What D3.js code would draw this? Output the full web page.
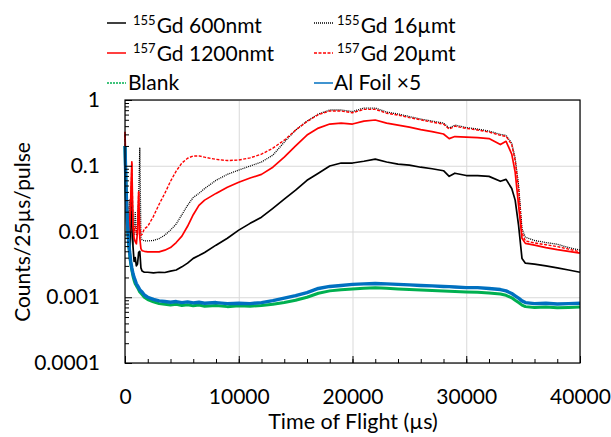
<!DOCTYPE html>
<html>
<head>
<meta charset="utf-8">
<script src="https://cdn.jsdelivr.net/npm/d3@7"></script>
<style>
  body { margin: 0; background: #fff; }
  text { font-family: Lato, "Open Sans", sans-serif; fill: #000; }
  .grid line { stroke: #d9d9d9; stroke-width: 1; }
  .grid path { display: none; }
</style>
</head>
<body>
<svg id="chart"></svg>
<script>

// Time of flight (us), shared by every series
var tof = [0, 100, 200, 300, 400, 500, 600, 700, 800, 900,
  1000, 1100, 1200, 1300, 1400, 1500, 1700, 2000, 2500, 3000,
  3500, 4000, 4500, 5000, 5500, 6000, 6500, 7000, 8000, 9000,
  10000, 11000, 12000, 13000, 14000, 15000, 16000, 17000, 18000, 19000,
  20000, 21000, 22000, 23000, 24000, 25000, 26000, 27000, 28000, 28500,
  29000, 30000, 31000, 32000, 33000, 33500, 34000, 34300, 34600, 34900,
  35200, 36000, 37000, 38000, 39000, 40000];

// 155Gd 600nmt
var gd155nm = [0.15, 0.03, 0.012, 0.006, 0.0045, 0.008, 0.06, 0.006, 0.0035, 0.004,
  0.003, 0.0032, 0.0048, 0.005, 0.0028, 0.0025, 0.0024, 0.0024, 0.00235, 0.0024,
  0.00238, 0.0025, 0.0026, 0.0029, 0.0033, 0.0039, 0.0043, 0.0048, 0.0062, 0.0079,
  0.0105, 0.0133, 0.0165, 0.0225, 0.031, 0.0425, 0.06, 0.077, 0.099, 0.11,
  0.11, 0.117, 0.126, 0.114, 0.106, 0.102, 0.095, 0.09, 0.084, 0.069,
  0.077, 0.071, 0.071, 0.069, 0.058, 0.062, 0.045, 0.03, 0.0124, 0.0039,
  0.0033, 0.0032, 0.003, 0.0028, 0.0026, 0.0024];

// 155Gd 16umt
var gd155um = [0.2, 0.04, 0.02, 0.012, 0.03, 0.012, 0.05, 0.01, 0.009, 0.02,
  0.009, 0.012, 0.03, 0.185, 0.008, 0.0075, 0.0072, 0.0072, 0.0073, 0.0078,
  0.0088, 0.0105, 0.013, 0.018, 0.025, 0.033, 0.038, 0.045, 0.06, 0.074,
  0.086, 0.099, 0.114, 0.145, 0.229, 0.349, 0.478, 0.612, 0.704, 0.704,
  0.667, 0.755, 0.755, 0.656, 0.612, 0.56, 0.513, 0.478, 0.446, 0.374,
  0.416, 0.381, 0.361, 0.337, 0.3, 0.29, 0.22, 0.131, 0.0506, 0.011,
  0.0082, 0.0073, 0.0068, 0.0064, 0.0057, 0.0052];

// 157Gd 1200nmt
var gd157nm = [0.33, 0.06, 0.02, 0.012, 0.01, 0.03, 0.115, 0.012, 0.008, 0.007,
  0.0065, 0.01, 0.04, 0.008, 0.0055, 0.0051, 0.005, 0.0049, 0.0049, 0.0049,
  0.0052, 0.0057, 0.0068, 0.0085, 0.012, 0.018, 0.025, 0.03, 0.038, 0.047,
  0.056, 0.065, 0.074, 0.095, 0.135, 0.2, 0.293, 0.374, 0.431, 0.446,
  0.431, 0.478, 0.496, 0.446, 0.416, 0.387, 0.355, 0.331, 0.304, 0.259,
  0.278, 0.273, 0.268, 0.259, 0.21, 0.235, 0.15, 0.08, 0.025, 0.0079,
  0.0066, 0.0062, 0.0057, 0.0053, 0.005, 0.0047];

// 157Gd 20umt
var gd157um = [0.3, 0.06, 0.03, 0.02, 0.015, 0.02, 0.11, 0.012, 0.01, 0.012,
  0.0095, 0.009, 0.04, 0.012, 0.0088, 0.009, 0.011, 0.012, 0.017, 0.026,
  0.038, 0.058, 0.083, 0.11, 0.13, 0.141, 0.141, 0.135, 0.125, 0.12,
  0.122, 0.132, 0.15, 0.185, 0.245, 0.349, 0.47, 0.6, 0.68, 0.68,
  0.64, 0.72, 0.72, 0.63, 0.59, 0.54, 0.5, 0.46, 0.43, 0.36,
  0.4, 0.37, 0.35, 0.325, 0.29, 0.28, 0.21, 0.12, 0.045, 0.0095,
  0.0072, 0.0067, 0.0063, 0.0059, 0.0054, 0.0049];

// Blank
var blank = [0.2, 0.04, 0.014, 0.0075, 0.0047, 0.0033, 0.0026, 0.0021, 0.0018, 0.0016,
  0.0015, 0.0014, 0.0013, 0.0012, 0.00115, 0.0011, 0.001, 0.00092, 0.00085, 0.0008,
  0.00078, 0.00076, 0.00078, 0.00075, 0.00077, 0.00074, 0.00076, 0.00073, 0.00075, 0.00072,
  0.00074, 0.00073, 0.00075, 0.00078, 0.00083, 0.0009, 0.001, 0.00115, 0.00125, 0.0013,
  0.00134, 0.00137, 0.00139, 0.00137, 0.00134, 0.00131, 0.00129, 0.00127, 0.00124, 0.00123,
  0.00122, 0.0012, 0.00119, 0.00116, 0.00112, 0.00107, 0.00098, 0.0009, 0.00083, 0.00076,
  0.00072, 0.0007, 0.00071, 0.00069, 0.0007, 0.00071];

// Al Foil x5
var alFoil = [0.2, 0.04, 0.015, 0.008, 0.005, 0.0035, 0.0028, 0.0023, 0.002, 0.0018,
  0.0016, 0.0015, 0.0014, 0.0013, 0.00125, 0.0012, 0.00108, 0.001, 0.00093, 0.00088,
  0.00086, 0.00084, 0.00086, 0.00083, 0.00085, 0.00082, 0.00084, 0.00081, 0.00083, 0.0008,
  0.00081, 0.0008, 0.00083, 0.00089, 0.00097, 0.00106, 0.00118, 0.00136, 0.00146, 0.00151,
  0.00157, 0.0016, 0.00162, 0.0016, 0.00157, 0.00154, 0.00151, 0.00149, 0.00146, 0.00145,
  0.00143, 0.0014, 0.0014, 0.00136, 0.00131, 0.00125, 0.00114, 0.00105, 0.00097, 0.00088,
  0.00083, 0.0008, 0.00081, 0.00079, 0.0008, 0.00081];

var xTicks = [0, 10000, 20000, 30000, 40000];
var yTicks = [0.0001, 0.001, 0.01, 0.1, 1];
var yTickLabels = ["0.0001", "0.001", "0.01", "0.1", "1"];

// legend entries: [superscript, label]
var legendLabels = [["155", "Gd 600nmt"], ["155", "Gd 16\u00b5mt"],
  ["157", "Gd 1200nmt"], ["157", "Gd 20\u00b5mt"],
  ["", "Blank"], ["", "Al Foil \u00d75"]];

var series = [
  { values: gd155nm, color: "#000", width: 1.7, dash: null },
  { values: gd155um, color: "#000", width: 1.3, dash: "1,1" },
  { values: gd157nm, color: "#ff0000", width: 1.7, dash: null },
  { values: gd157um, color: "#ff0000", width: 1.4, dash: "3,1.5" },
  { values: blank, color: "#00b050", width: 3, dash: null },
  { values: alFoil, color: "#0070c0", width: 3.4, dash: null }
];

var margin = {top: 100, right: 31, bottom: 74, left: 125},
    width = 611 - margin.left - margin.right,
    height = 437 - margin.top - margin.bottom;

var x = d3.scaleLinear().domain([0, 40000]).range([0, width]);
var y = d3.scaleLog().domain([0.0001, 1]).range([height, 0]);

var svg = d3.select("svg#chart")
    .attr("width", 611)
    .attr("height", 437);

var g = svg.append("g")
    .attr("transform", "translate(" + margin.left + "," + margin.top + ")");

// gridlines
g.append("g")
    .attr("class", "grid")
    .call(d3.axisLeft(y).tickValues(yTicks).tickSize(-width).tickFormat(""));
g.append("g")
    .attr("class", "grid")
    .attr("transform", "translate(0," + height + ")")
    .call(d3.axisBottom(x).tickValues(xTicks).tickSize(-height).tickFormat(""));

// curves
var line = d3.line()
    .x(function(d, i) { return x(tof[i]); })
    .y(function(d) { return y(d); });

series.forEach(function(s) {
  g.append("path")
      .datum(s.values)
      .attr("fill", "none")
      .attr("stroke", s.color)
      .attr("stroke-width", s.width)
      .attr("stroke-dasharray", s.dash)
      .attr("stroke-linejoin", "round")
      .attr("d", line);
});

// frame
g.append("rect")
    .attr("width", width)
    .attr("height", height)
    .attr("fill", "none")
    .attr("stroke", "#000")
    .attr("stroke-width", 1.2);

// minor ticks
var xMinor = d3.range(0, 40001, 2000);
var yMinor = [];
[-4, -3, -2, -1].forEach(function(p) {
  for (var k = 2; k <= 9; k++) yMinor.push(k * Math.pow(10, p));
});

function styleAxis(sel) {
  sel.select(".domain").remove();
  sel.selectAll("line").attr("stroke", "#000");
  sel.selectAll("text").style("font-size", "21px");
}

g.append("g")
    .attr("transform", "translate(0," + height + ")")
    .call(d3.axisBottom(x).tickValues(xMinor).tickSize(-4).tickFormat(""))
    .call(styleAxis);
g.append("g")
    .call(d3.axisLeft(y).tickValues(yMinor).tickSize(-4).tickFormat(""))
    .call(styleAxis);

// major ticks + labels
g.append("g")
    .attr("transform", "translate(0," + height + ")")
    .call(d3.axisBottom(x).tickValues(xTicks).tickSize(-7).tickPadding(26)
      .tickFormat(function(d) { return d; }))
    .call(styleAxis);
g.append("g")
    .call(d3.axisLeft(y).tickValues(yTicks).tickSize(-7).tickPadding(25)
      .tickFormat(function(d, i) { return yTickLabels[i]; }))
    .call(styleAxis);

// axis titles
svg.append("text")
    .attr("x", 353)
    .attr("y", 429)
    .attr("text-anchor", "middle")
    .style("font-size", "21.5px")
    .text("Time of Flight (\u00b5s)");

svg.append("text")
    .attr("transform", "translate(30,232) rotate(-90)")
    .attr("text-anchor", "middle")
    .style("font-size", "21px")
    .text("Counts/25\u00b5s/pulse");

// legend
var legendPos = [
  {lx: 107, ly: 23, tx: 133, ty: 33},
  {lx: 314, ly: 23, tx: 337, ty: 33},
  {lx: 107, ly: 53, tx: 133, ty: 61},
  {lx: 314, ly: 53, tx: 337, ty: 61},
  {lx: 107, ly: 83, tx: 128, ty: 90},
  {lx: 314, ly: 83, tx: 334, ty: 90}
];
var legendDash = [null, "1,1", null, "3,1.5", "2,1", null];

legendLabels.forEach(function(lab, i) {
  var p = legendPos[i], s = series[i];
  svg.append("line")
      .attr("x1", p.lx).attr("x2", p.lx + 19)
      .attr("y1", p.ly).attr("y2", p.ly)
      .attr("stroke", s.color)
      .attr("stroke-width", 1.5)
      .attr("stroke-dasharray", legendDash[i]);
  var t = svg.append("text")
      .attr("x", p.tx)
      .attr("y", p.ty)
      .style("font-size", "21px");
  if (lab[0]) {
    t.append("tspan").style("font-size", "13px").attr("dy", -8).text(lab[0]);
    t.append("tspan").attr("dx", 1).attr("dy", 8).text(lab[1]);
  } else {
    t.text(lab[1]);
  }
});

</script>
</body>
</html>
